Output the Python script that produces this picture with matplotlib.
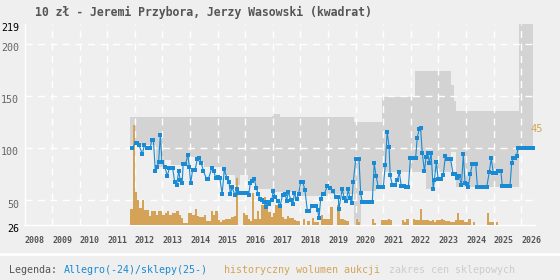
import matplotlib
matplotlib.use("Agg")
import matplotlib.pyplot as plt
import matplotlib.transforms as mtransforms
import numpy as np

# ---------------- data ----------------
title = "10 zł - Jeremi Przybora, Jerzy Wasowski (kwadrat)"

# Allegro / shop price series (decimal year, price)
price_years = [
    2011.91, 2012.03, 2012.09, 2012.15, 2012.27, 2012.34, 2012.43, 2012.49, 2012.55, 2012.61,
    2012.67, 2012.74, 2012.81, 2012.86, 2012.92, 2012.98, 2013.09, 2013.17, 2013.25, 2013.31,
    2013.37, 2013.44, 2013.51, 2013.59, 2013.64, 2013.71, 2013.75, 2013.83, 2013.92, 2013.97,
    2014.02, 2014.09, 2014.18, 2014.26, 2014.33, 2014.41, 2014.48, 2014.60, 2014.66, 2014.78,
    2014.86, 2014.93, 2015.00, 2015.08, 2015.16, 2015.24, 2015.34, 2015.41, 2015.46, 2015.52,
    2015.63, 2015.69, 2015.75, 2015.83, 2015.90, 2015.98, 2016.05, 2016.12, 2016.18, 2016.25,
    2016.33, 2016.40, 2016.47, 2016.53, 2016.62, 2016.68, 2016.75, 2016.81, 2016.87, 2016.96,
    2017.01, 2017.08, 2017.17, 2017.26, 2017.35, 2017.44, 2017.50, 2017.56, 2017.65, 2017.72,
    2017.78, 2017.86, 2017.93, 2018.01, 2018.08, 2018.16, 2018.25, 2018.32, 2018.41, 2018.48,
    2018.56, 2018.62, 2018.67, 2018.73, 2018.80, 2018.86, 2018.97, 2019.07, 2019.17, 2019.28,
    2019.37, 2019.39, 2019.51, 2019.59, 2019.66, 2019.73, 2019.79, 2019.86, 2019.91, 2020.00,
    2020.06, 2020.12, 2020.18, 2020.24, 2020.33, 2020.42, 2020.51, 2020.60, 2020.67, 2020.74,
    2020.82, 2020.91, 2021.00, 2021.07, 2021.14, 2021.21, 2021.25, 2021.33, 2021.42, 2021.51,
    2021.58, 2021.65, 2021.74, 2021.82, 2021.91, 2021.98, 2022.07, 2022.17, 2022.23, 2022.30,
    2022.35, 2022.41, 2022.49, 2022.55, 2022.61, 2022.67, 2022.73, 2022.81, 2022.85, 2022.92,
    2022.99, 2023.09, 2023.17, 2023.25, 2023.32, 2023.38, 2023.44, 2023.53, 2023.61, 2023.66,
    2023.75, 2023.83, 2023.90, 2023.96, 2024.02, 2024.08, 2024.15, 2024.22, 2024.28, 2024.35,
    2024.41, 2024.50, 2024.58, 2024.67, 2024.75, 2024.84, 2024.91, 2024.99, 2025.08, 2025.17,
    2025.26, 2025.31, 2025.38, 2025.45, 2025.52, 2025.59, 2025.65, 2025.69, 2025.77, 2025.83,
    2025.88, 2025.96, 2026.04, 2026.12, 2026.20, 2026.28, 2026.36, 2026.43,
]
price_values = [
    100.4, 105.2, 105.2, 102.6, 94.0, 102.6, 99.5, 99.5, 99.5, 107.4,
    107.4, 77.7, 81.8, 86.6, 112.2, 86.6, 81.8, 73.2, 80.3, 80.3,
    80.3, 67.5, 64.3, 78.0, 69.1, 66.0, 84.4, 84.4, 93.0, 81.8,
    66.0, 78.7, 78.7, 89.2, 90.8, 85.1, 78.0, 70.0, 70.0, 80.3,
    78.0, 70.7, 71.7, 70.7, 55.7, 79.3, 70.7, 66.9, 55.7, 62.1,
    54.7, 60.2, 56.4, 56.4, 56.4, 56.4, 56.4, 54.7, 66.0, 68.5,
    69.8, 61.2, 55.7, 50.9, 49.9, 48.3, 43.5, 48.3, 45.8, 49.9,
    58.6, 53.1, 49.0, 44.2, 54.7, 55.7, 49.3, 57.9, 49.9, 46.1,
    56.4, 50.6, 55.7, 67.5, 67.5, 59.5, 39.4, 39.4, 44.2, 44.2,
    44.2, 40.4, 32.4, 50.9, 55.7, 55.7, 63.4, 62.0, 58.9, 53.1,
    53.1, 41.0, 60.2, 51.6, 49.0, 60.2, 51.6, 47.4, 66.9, 88.9,
    88.9, 88.9, 56.4, 47.7, 47.7, 47.7, 47.7, 47.7, 85.1, 72.9,
    62.1, 62.1, 62.1, 83.2, 115.7, 101.0, 73.6, 64.3, 64.3, 69.1,
    76.5, 63.4, 63.4, 62.7, 62.7, 89.9, 89.9, 89.9, 110.0, 117.7,
    119.6, 95.6, 77.7, 91.4, 95.6, 85.1, 95.6, 60.2, 69.1, 86.1,
    69.8, 69.8, 73.9, 92.1, 88.9, 88.9, 88.9, 74.8, 74.8, 70.7,
    73.2, 64.3, 93.7, 66.5, 65.3, 62.1, 74.8, 84.1, 84.1, 84.1,
    62.7, 62.7, 62.7, 62.7, 62.7, 77.1, 89.9, 75.5, 75.5, 78.0,
    78.0, 63.4, 63.4, 63.4, 63.4, 63.4, 85.1, 89.9, 89.9, 92.1,
    99.5, 99.5, 99.5, 99.5, 99.5, 99.5, 99.5, 99.5,
]

# Shop price range (step function, start year of each step)
range_years = [2011.82, 2012.75, 2013.10, 2013.30, 2014.00, 2014.30, 2014.50, 2015.20, 2015.62,
               2015.80, 2016.10, 2016.35, 2016.95, 2017.05, 2017.25, 2018.00, 2019.00, 2019.95,
               2020.20, 2020.75, 2020.95, 2022.15, 2022.55, 2022.80, 2023.45, 2023.55, 2023.62,
               2025.90, 2026.43]
range_low = [103, 82, 88, 83.5, 91, 86.6, 82, 74, 64,
             74, 69, 60.5, 58, 58, 58, 54, 56, 26,
             58.6, 62.7, 77, 77, 60.5, 77, 96, 96, 62.7,
             100, 100]
range_high = [130, 130, 130, 130, 130, 130, 130, 130, 130,
              130, 130, 130, 131, 133, 130, 130, 130, 125,
              125, 125, 149, 173.5, 173.5, 173.5, 160, 145, 135.5,
              219, 219]

# Monthly auction volume, starting Nov 2011 (relative units)
volume_start = 2011 + 10 / 12
volumes = [16, 100, 33, 25, 17, 25, 15, 15, 9, 14,
           14, 10, 14, 14, 10, 12, 14, 10, 12, 12,
           14, 10, 7, 2, 2, 12, 12, 10, 16, 9,
           8, 8, 10, 4, 4, 14, 10, 14, 5, 3,
           5, 6, 6, 6, 8, 9, 47,
           0, 0, 12, 10, 6, 4, 32, 6, 14, 6,
           20, 28, 20, 13, 8, 12, 20, 20, 20, 8,
           6, 9, 7, 7, 5,
           4, 4, 0, 6, 0, 4, 0, 7, 3, 3, 0,
           10, 6, 6, 6, 18, 0, 0, 20, 6, 6, 5, 4, 0, 0, 0, 6, 3,
           0, 0, 0, 0, 0, 6, 2, 0, 0, 5, 5, 5, 6, 5, 0, 0, 0, 0,
           5, 3, 6, 0, 0, 6, 5, 5, 16, 5, 5, 5, 4, 5, 3, 5, 5, 6, 5, 4, 4, 3, 3, 5,
           12, 5, 5, 3, 3, 6, 0, 3, 0, 0, 0, 0, 0, 12, 3, 3, 0, 3]
volume_max_label = "45"

year_ticks = list(range(2008, 2027))
y_ticks = [26, 50, 100, 150, 200, 219]

# ---------------- style ----------------
BG = "#efefef"
BLUE = "#1a8ad2"
ORANGE = "#d4a358"
BAND = "#d3d3d3"
MONO = "DejaVu Sans Mono"

W, H = 560, 280
fig = plt.figure(figsize=(W / 100, H / 100), dpi=100, facecolor=BG)
x0, x1, y0, y1 = 24.5, 535, 24, 225
rect = [x0 / W, 1 - y1 / H, (x1 - x0) / W, (y1 - y0) / H]

ax = fig.add_axes(rect, zorder=1)
ax.set_facecolor(BG)
xlim = (2008, 2008 + (x1 - x0) / 27.6)
ylim = (26, 219)
ax.set_xlim(*xlim)
ax.set_ylim(*ylim)

# price band
ax.fill_between(range_years, range_low, range_high, step="post", color=BAND, lw=0, zorder=1)

# grid
dash = (0, (5, 4))
for v in [50, 100, 150, 200]:
    ax.axhline(v, color="white", lw=1, ls=dash, zorder=2)
for yr in year_ticks[1:]:
    ax.axvline(yr, color="white", lw=1, ls=dash, zorder=2)

for s in ["top", "right"]:
    ax.spines[s].set_visible(False)
for s in ["left", "bottom"]:
    ax.spines[s].set_color("white")
    ax.spines[s].set_linewidth(1)

ax.set_xticks(year_ticks)
ax.set_xticklabels([str(y) for y in year_ticks], fontsize=6, family=MONO,
                   color="#555555", fontweight="bold", ha="left")
ax.tick_params(axis="x", length=0, pad=8)
ax.set_yticks(y_ticks)
ax.set_yticklabels([str(v) for v in y_ticks], fontsize=7.2, family=MONO)
ax.tick_params(axis="y", length=0, pad=4)
for lab, v in zip(ax.get_yticklabels(), y_ticks):
    lab.set_color("black" if v in (26, 219) else "#666666")
    lab.set_transform(lab.get_transform() +
                      mtransforms.ScaledTranslation(0, -0.035, fig.dpi_scale_trans))

# volume bars
axb = fig.add_axes(rect, zorder=2)
axb.patch.set_visible(False)
axb.set_xlim(*xlim)
axb.set_ylim(0, y1 - y0)
vol_x = [volume_start + k / 12 for k in range(len(volumes))]
axb.bar(vol_x, volumes, width=1 / 12, align="edge", color=ORANGE, lw=0)
axb.axis("off")

# price line
axl = fig.add_axes(rect, zorder=3)
axl.patch.set_visible(False)
axl.set_xlim(*xlim)
axl.set_ylim(*ylim)
axl.plot(price_years, price_values, color=BLUE, lw=0.8, marker="s", ms=2.5,
         mec=BLUE, mew=0, mfc=BLUE)
axl.axis("off")

axl.text((530 - x0) / (x1 - x0), 1 - (129 - y0) / (y1 - y0), volume_max_label,
         transform=axl.transAxes, fontsize=7.5, family=MONO, color=ORANGE,
         ha="left", va="center")

# title
fig.text(35 / W, 1 - 12 / H, title, fontsize=8.3, family=MONO, fontweight="bold",
         color="#555555", ha="left", va="center")

# legend separator
fig.add_artist(plt.Line2D([0, 1], [1 - 253.5 / H, 1 - 253.5 / H], color="white", lw=2,
                          transform=fig.transFigure))
ly = 1 - 270 / H
fig.text(9 / W, ly, "Legenda:", fontsize=7.2, family=MONO, color="#555555", va="center")
fig.text(64 / W, ly, "Allegro(-24)/sklepy(25-)", fontsize=7.2, family=MONO, color=BLUE, va="center")
fig.text(224 / W, ly, "historyczny wolumen aukcji", fontsize=7.2, family=MONO, color=ORANGE, va="center")
fig.text(389 / W, ly, "zakres cen sklepowych", fontsize=7.2, family=MONO, color="#cccccc", va="center")

fig.savefig("out.png", dpi=100, facecolor=BG)
